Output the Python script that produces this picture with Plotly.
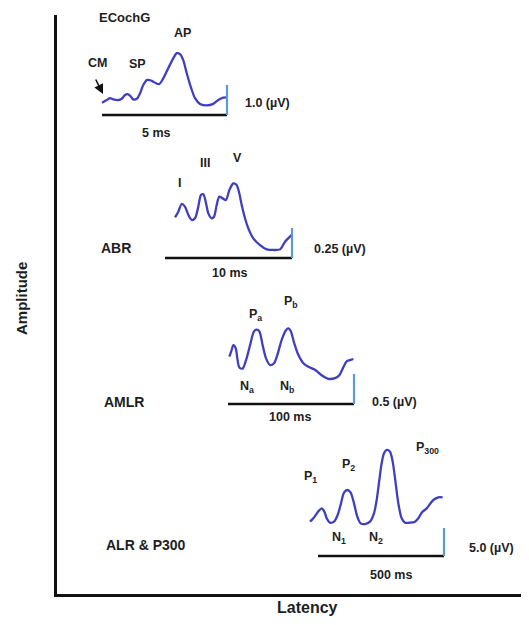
import plotly.graph_objects as go

# ---------------- data ----------------
panels = ["ECochG", "ABR", "AMLR", "ALR &amp; P300"]
windows_ms = [5, 10, 100, 500]            # horizontal scale bars (latency)
scale_uv = [1.0, 0.25, 0.5, 5.0]          # vertical scale bars (amplitude)
scale_labels = ["1.0 (µV)", "0.25 (µV)", "0.5 (µV)", "5.0 (µV)"]
window_labels = ["5 ms", "10 ms", "100 ms", "500 ms"]

ecochg_lat = [0.0, 0.19, 0.32, 0.45, 0.65, 0.79, 0.92, 1.05, 1.16, 1.25, 1.39, 1.52, 1.65, 1.81,
              1.99, 2.16, 2.29, 2.45, 2.65, 2.85, 2.99, 3.12, 3.25, 3.39, 3.55, 3.72, 3.92, 4.19,
              4.45, 4.65, 4.85, 4.99]
ecochg_amp = [0.41, 0.50, 0.56, 0.52, 0.50, 0.54, 0.67, 0.69, 0.61, 0.52, 0.54, 0.72, 1.00, 1.17,
              1.14, 1.06, 1.03, 1.22, 1.56, 1.89, 2.06, 2.03, 1.83, 1.39, 0.94, 0.56, 0.37, 0.32,
              0.37, 0.50, 0.58, 0.59]

abr_lat = [0.79, 1.05, 1.31, 1.57, 1.84, 2.10, 2.36, 2.62, 2.83, 3.02, 3.23, 3.41, 3.67, 3.86,
           4.07, 4.28, 4.54, 4.80, 5.07, 5.38, 5.64, 5.85, 6.04, 6.30, 6.56, 6.95, 7.48, 8.01,
           8.53, 9.06, 9.45, 9.84, 9.98]
abr_amp = [0.339, 0.386, 0.450, 0.428, 0.358, 0.317, 0.331, 0.428, 0.525, 0.531, 0.456, 0.372,
           0.331, 0.344, 0.442, 0.511, 0.497, 0.483, 0.567, 0.622, 0.608, 0.539, 0.442, 0.331,
           0.247, 0.164, 0.108, 0.072, 0.067, 0.072, 0.136, 0.178, 0.192]

amlr_lat = [1.1, 2.9, 4.2, 6.1, 7.4, 9.0, 11.6, 14.3, 17.5, 20.6, 22.8, 24.9, 27.5, 30.2, 33.3,
            36.5, 39.2, 42.6, 46.0, 47.9, 49.7, 52.6, 55.8, 59.8, 63.8, 69.0, 74.3, 79.6, 84.9,
            88.4, 91.5, 94.2, 96.8, 99.5]
amlr_amp = [0.79, 0.90, 0.98, 0.93, 0.76, 0.61, 0.59, 0.73, 0.98, 1.21, 1.24, 1.21, 0.98, 0.76,
            0.65, 0.68, 0.82, 1.07, 1.23, 1.26, 1.22, 1.01, 0.82, 0.68, 0.62, 0.57, 0.48, 0.42,
            0.43, 0.48, 0.61, 0.71, 0.73, 0.75]

alr_lat = [-31.7, -18.5, -2.6, 14.6, 25.2, 34.4, 47.6, 63.5, 78.0, 91.3, 103.2, 116.4, 129.6,
           142.9, 156.1, 169.3, 186.5, 206.3, 222.2, 232.8, 243.4, 252.6, 261.9, 272.5, 285.7,
           296.3, 308.2, 318.8, 332.0, 345.2, 365.1, 384.9, 398.1, 411.4, 431.2, 444.4, 457.7,
           477.4, 494.6]
alr_amp = [6.13, 6.73, 7.74, 8.51, 7.92, 6.73, 5.95, 6.13, 7.32, 9.40, 11.31, 11.79, 11.31, 9.40,
           7.02, 5.83, 5.71, 6.13, 7.62, 10.0, 13.57, 16.55, 18.33, 18.93, 18.63, 16.85, 12.98,
           9.40, 6.73, 5.95, 5.95, 6.13, 6.73, 7.74, 8.51, 9.29, 10.0, 10.48, 10.48]

wave_lat = [ecochg_lat, abr_lat, amlr_lat, alr_lat]
wave_amp = [ecochg_amp, abr_amp, amlr_amp, alr_amp]

# ---------------- layout geometry (screen pixels) ----------------
SCREEN_W, SCREEN_H = 529, 625
OFF = 8                                  # default page margin around the figure
FIG_W, FIG_H = SCREEN_W - OFF, SCREEN_H - OFF
L, R, T, B = 57, 529, 15, 594            # frame (plot area) in screen pixels
# per panel: bar start x, bar end x, baseline y, vertical bar height px
geom = [(102, 227, 115, 30), (165, 292, 258, 30), (228, 354, 404, 30), (318, 444, 556, 28)]

WAVE = "#3f3fbf"
BAR_BLUE = "#5b9bd5"
TXT = "#1e1e1e"
FONT = "Liberation Sans, Arial, sans-serif"

fig = go.Figure()
# invisible trace so the main (frame) subplot is created and its axis lines drawn
fig.add_trace(go.Scatter(x=[L, R], y=[B, T], mode="markers", marker=dict(opacity=0, size=1),
                         hoverinfo="skip", showlegend=False))
layout = {}

for i in range(4):
    x0, x1, base, hpx = geom[i]
    s = (x1 - x0) / windows_ms[i]          # px per ms
    k = scale_uv[i] / hpx                  # µV per px
    n = i + 2
    xa, ya = f"x{n}", f"y{n}"
    layout[f"xaxis{n}"] = dict(overlaying="x", anchor=ya, visible=False,
                               range=[(L - x0) / s, (R - x0) / s])
    layout[f"yaxis{n}"] = dict(overlaying="y", anchor=xa, visible=False,
                               range=[(base - B) * k, (base - T) * k])
    fig.add_trace(go.Scatter(x=wave_lat[i], y=wave_amp[i], mode="lines", xaxis=xa, yaxis=ya,
                             line=dict(color=WAVE, width=2.3, shape="spline", smoothing=0.8),
                             hoverinfo="skip", showlegend=False))
    fig.add_trace(go.Scatter(x=[0, windows_ms[i]], y=[0, 0], mode="lines", xaxis=xa, yaxis=ya,
                             line=dict(color="#111111", width=2.5),
                             hoverinfo="skip", showlegend=False))
    fig.add_trace(go.Scatter(x=[windows_ms[i], windows_ms[i]], y=[0, scale_uv[i]], mode="lines",
                             xaxis=xa, yaxis=ya, line=dict(color=BAR_BLUE, width=2.2),
                             hoverinfo="skip", showlegend=False))

fig.update_layout(
    width=FIG_W, height=FIG_H,
    margin=dict(l=L - OFF, r=FIG_W - (R - OFF), t=T - OFF, b=FIG_H - (B - OFF), pad=0),
    paper_bgcolor="white", plot_bgcolor="rgba(0,0,0,0)",
    xaxis=dict(range=[L, R], showgrid=False, zeroline=False, showticklabels=False, ticks="",
               showline=True, linecolor="#111111", linewidth=2.5, fixedrange=True),
    yaxis=dict(range=[B, T], showgrid=False, zeroline=False, showticklabels=False, ticks="",
               showline=True, linecolor="#111111", linewidth=2.5, fixedrange=True),
    **layout,
)

def px(x):
    return (x - L) / (R - L)

def py(y):
    return (B - y) / (B - T)

def label(x, y, text, size=12.5, xanchor="center", textangle=0):
    fig.add_annotation(x=px(x), y=py(y), xref="paper", yref="paper", text=text,
                       showarrow=False, xanchor=xanchor, yanchor="middle", textangle=textangle,
                       font=dict(family=FONT, size=size, color=TXT, weight="bold"))

# panel titles
label(124, 17, panels[0], 13)
label(116, 248, panels[1], 14)
label(124, 402, panels[2], 14)
label(146, 545, panels[3], 14)

# scale labels
label(243, 103, scale_labels[0], 12.5, "left")
label(312, 249, scale_labels[1], 12.5, "left")
label(370, 402, scale_labels[2], 12.5, "left")
label(467, 548, scale_labels[3], 12.5, "left")
label(156, 133, window_labels[0], 12.5)
label(229, 273, window_labels[1], 12.5)
label(290, 417, window_labels[2], 12.5)
label(391, 575, window_labels[3], 12.5)

# component labels
label(97, 63, "CM", 12.5)
label(137, 64, "SP", 12.5)
label(182, 33, "AP", 12.5)
label(179, 183, "I", 12.5)
label(205, 163, "III", 12.5)
label(237, 158, "V", 12.5)
label(255, 315, "P<sub>a</sub>", 12.5)
label(291, 302, "P<sub>b</sub>", 12.5)
label(247, 387, "N<sub>a</sub>", 12.5)
label(287, 387, "N<sub>b</sub>", 12.5)
label(310, 477, "P<sub>1</sub>", 12.5)
label(348, 465, "P<sub>2</sub>", 12.5)
label(427, 448, "P<sub>300</sub>", 12.5)
label(339, 538, "N<sub>1</sub>", 12.5)
label(376, 538, "N<sub>2</sub>", 12.5)

# CM arrow (tail offset in pixels from the head)
fig.add_annotation(x=px(103), y=py(94), ax=-8, ay=-16, xref="paper", yref="paper",
                   axref="pixel", ayref="pixel", text="", showarrow=True, arrowhead=2,
                   arrowsize=1.2, arrowwidth=1.6, arrowcolor="#111111")

# axis titles
label(307, 607, "Latency", 16)
label(21, 299, "Amplitude", 15, textangle=-90)

fig.write_html("out.html")
